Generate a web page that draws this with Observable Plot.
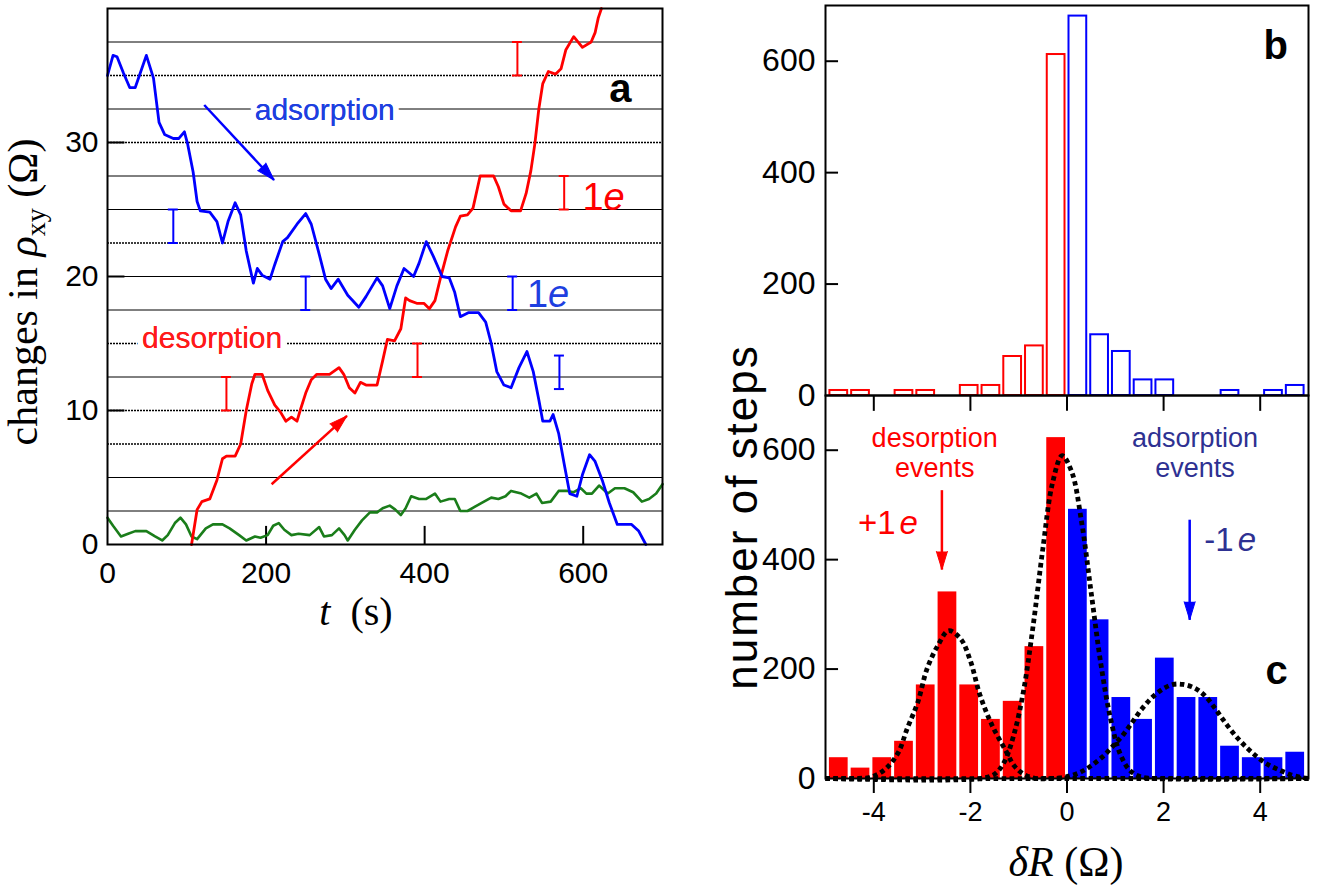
<!DOCTYPE html>
<html><head><meta charset="utf-8">
<script src="https://cdn.jsdelivr.net/npm/d3@7"></script>
<script src="https://cdn.jsdelivr.net/npm/@observablehq/plot@0.6"></script>
<style>
body{margin:0;background:#fff;}
#fig{position:relative;width:1319px;height:887px;overflow:hidden;background:#fff;}
#fig svg{position:absolute;}
</style></head><body><div id="fig"></div>
<script>
// ---------- Panel a : time traces ----------
const blueT = [0,7,12,20,28,35,42,49,58,65,72,83,90,97,101,108,113,117,129,138,145,152,161,168,175,184,189,195,205,211,221,227,239,250,257,266,275,282,291,303,317,326,340,347,356,365,374,386,393,402,411,422,431,438,445,455,468,477,484,491,500,509,519,529,537,544,549,558,562,569,576,583,592,599,608,615,624,633,643,652,661,670,679];
const blueR = [35.0,36.5,36.4,35.2,34.1,34.1,35.3,36.5,34.8,31.5,30.6,30.3,30.3,30.8,29.9,27.8,25.6,24.9,24.8,24.1,22.5,24.1,25.5,24.6,21.9,19.5,20.6,20.1,19.8,20.9,22.6,22.9,23.9,24.7,23.9,21.9,19.8,19.1,19.8,18.6,17.7,18.5,19.9,19.3,17.6,19.3,20.6,20.0,21.0,22.6,21.5,20.0,19.9,18.8,17.0,17.3,17.3,16.6,15.0,12.9,11.9,11.7,13.2,14.4,12.9,10.8,9.2,9.2,9.7,8.3,6.0,3.8,3.6,5.2,6.7,6.2,4.8,3.1,1.5,1.5,1.5,1.0,0.0];
const redT = [106,113,119,129,138,145,150,161,168,175,182,186,195,202,211,218,225,232,239,243,250,257,264,280,292,298,305,312,319,326,340,347,353,362,370,376,381,390,399,406,413,420,429,439,445,454,461,470,487,493,500,509,521,528,534,539,544,549,556,565,572,578,588,599,610,615,619,623];
const redR = [0.0,2.6,3.2,3.4,4.8,6.4,6.6,6.6,7.5,10.0,12.0,12.7,12.7,11.5,10.4,9.9,9.2,9.5,9.2,10.0,11.3,12.3,12.7,12.7,13.2,12.7,11.7,11.3,12.1,11.9,11.9,13.7,15.3,15.2,16.1,18.4,18.2,18.0,18.0,17.6,18.2,19.9,21.9,23.7,24.5,24.6,25.1,27.5,27.5,26.7,25.4,24.9,24.9,26.2,27.9,29.9,32.5,34.4,35.3,35.1,35.5,36.9,37.9,37.1,37.5,38.2,39.3,40.0];
const greenT = [0,7,17,26,35,49,60,69,76,85,92,99,106,113,124,133,145,154,166,175,186,193,202,209,216,223,232,241,255,267,273,283,292,299,303,312,321,331,340,347,356,363,370,376,383,393,402,413,420,431,438,445,454,463,472,484,493,502,509,522,532,541,548,559,569,580,588,597,604,611,620,631,640,652,663,674,683,692,700];
const greenR = [2.0,1.4,0.6,0.8,1.0,1.0,0.6,0.3,0.7,1.6,2.0,1.5,0.6,0.4,1.2,1.5,1.5,1.2,0.7,0.3,0.6,0.5,0.7,1.4,1.6,1.1,0.7,0.8,0.7,1.3,0.6,0.7,1.2,0.7,0.3,1.1,1.8,2.4,2.4,2.7,2.9,2.6,2.2,2.7,3.6,3.4,3.4,3.8,3.2,3.4,3.4,2.5,2.5,2.8,3.1,3.5,3.4,3.6,4.0,3.8,3.5,3.8,3.1,3.2,4.0,4.0,3.9,4.2,3.8,3.8,4.4,3.8,4.2,4.2,3.9,3.2,3.4,3.8,4.5];
const blueErrT = [83,250,511,570];
const blueErrLo = [22.5,17.5,17.5,11.6];
const blueErrHi = [25.0,20.0,20.0,14.1];
const redErrT = [150,391,517,576];
const redErrLo = [10.0,12.5,35.0,25.0];
const redErrHi = [12.5,15.0,37.5,27.5];
const gridSolid = [37.5,32.5,27.5,25,20,17.5,12.5,5,2.5];
const gridDotted = [35,30,22.5,15,10,7.5];
const aTicksX = [0,200,400,600];
const aTicksY = [0,10,20,30];

// ---------- Panels b, c : histograms ----------
const binW = 0.45;
const bRedLo = [-4.95,-4.5,-3.6,-3.15,-2.25,-1.8,-1.35,-0.9,-0.45];
const bRedN  = [9,9,9,9,18,18,70,89,612];
const bBlueLo = [0,0.45,0.9,1.35,1.8,3.15,4.05,4.5];
const bBlueN  = [681,109,79,28,28,9,9,18];
const cRedLo = [-4.95,-4.5,-4.05,-3.6,-3.15,-2.7,-2.25,-1.8,-1.35,-0.9,-0.45];
const cRedN  = [38,19,38,68,171,341,171,108,141,241,623];
const cBlueLo = [0,0.45,0.9,1.35,1.8,2.25,2.7,3.15,3.6,4.05,4.5];
const cBlueN  = [492,290,148,108,220,148,148,59,38,38,48];
// dotted fit curves
const fit1V = [-5,-4.4,-4.05,-3.75,-3.49,-3.31,-3.09,-2.9,-2.68,-2.45,-2.2,-2.0,-1.8,-1.55,-1.25,-1.1,-0.9,-0.65,-0.3,5];
const fit1N = [0,0,3,18,48,91,139,200,242,270,255,215,152,97,48,24,8,0,0,0];
const fit2V = [-5,-1.8,-1.5,-1.3,-1.1,-0.9,-0.7,-0.5,-0.3,-0.1,0.1,0.3,0.5,0.7,0.9,1.1,1.3,1.5,1.8,5];
const fit2N = [0,0,8,30,80,160,280,420,540,590,560,470,340,210,110,45,15,4,0,0];
const fit3V = [-5,-0.5,-0.15,0.07,0.29,0.51,0.74,0.96,1.18,1.36,1.54,1.76,1.99,2.2,2.4,2.65,2.87,3.09,3.31,3.53,3.75,3.97,4.19,4.41,4.63,4.85,5];
const fit3N = [0,0,1,5,12,24,40,60,82,104,126,148,164,172,172,165,150,125,98,74,54,37,24,15,7,2,0];
const bcTicksX = [-4,-2,0,2,4];
const bcTicksY = [0,200,400,600];

// ---------- helpers ----------
const rows = (xs, ys) => xs.map((x, i) => ({x, y: ys[i]}));
const errRows = (ts, lo, hi) => ts.map((t, i) => ({t, lo: lo[i], hi: hi[i]}));
const binRows = (lo, n) => lo.map((l, i) => ({lo: l, hi: l + binW, n: n[i]}));
const pt = (x, y) => [{x, y}];
const RED = "#ff0000", BLUE = "#0000ff", GREEN = "#1a7d1a";
const fig = document.getElementById("fig");

// layout of panel a
const A = {w: 700, h: 650, mt: 8, mr: 38, mb: 106, ml: 107};
const sxA = (A.w - A.ml - A.mr) / 700, syA = (A.h - A.mt - A.mb) / 40;
const rot = (d, sx, sy) => Math.atan2((d.x2 - d.x1) * sx, (d.y2 - d.y1) * sy) * 180 / Math.PI;
const arrowBlueA = [{x1: 122, y1: 32.8, x2: 210, y2: 27.2}];
const arrowRedA = [{x1: 207, y1: 4.5, x2: 302, y2: 9.6}];

function errMarks(data, color) {
  return [
    Plot.ruleX(data, {x: "t", y1: "lo", y2: "hi", stroke: color, strokeWidth: 2}),
    Plot.ruleY(data, {y: "lo", x1: d => d.t - 6.3, x2: d => d.t + 6.3, stroke: color, strokeWidth: 2}),
    Plot.ruleY(data, {y: "hi", x1: d => d.t - 6.3, x2: d => d.t + 6.3, stroke: color, strokeWidth: 2})
  ];
}
function arrowMarks(data, color, sx, sy) {
  return [
    Plot.link(data, {x1: "x1", y1: "y1", x2: "x2", y2: "y2", stroke: color, strokeWidth: 2.5}),
    Plot.vector(data, {x: "x2", y: "y2", rotate: d => rot(d, sx, sy), length: 18, r: 5.5, anchor: "end", shape: "spike", fill: color, stroke: color, strokeWidth: 1})
  ];
}

const plotA = Plot.plot({
  width: A.w, height: A.h, marginTop: A.mt, marginRight: A.mr, marginBottom: A.mb, marginLeft: A.ml,
  x: {domain: [0, 700]}, y: {domain: [0, 40]},
  style: {fontFamily: "Liberation Sans", background: "transparent", overflow: "visible"},
  marks: [
    Plot.ruleY(gridSolid, {stroke: "#000", strokeWidth: 1}),
    Plot.ruleY(gridDotted, {stroke: "#000", strokeWidth: 1.3, strokeDasharray: "2,1"}),
    Plot.ruleX(aTicksX.slice(1), {y1: 0, y2: 1.35, strokeWidth: 2}),
    Plot.ruleY(aTicksY.slice(1), {x1: 0, x2: 22, strokeWidth: 2}),
    Plot.text(pt(274, 32.4), {x: "x", y: "y", text: () => "adsorption", fill: "#1e3fe0", fontSize: 30, stroke: "white", strokeWidth: 12}),
    Plot.text(pt(274, 32.4), {x: "x", y: "y", text: () => "adsorption", fill: "#1e3fe0", fontSize: 30}),
    Plot.text(pt(132, 15.4), {x: "x", y: "y", text: () => "desorption", fill: "#ff1a1a", fontSize: 30, stroke: "white", strokeWidth: 12}),
    Plot.text(pt(132, 15.4), {x: "x", y: "y", text: () => "desorption", fill: "#ff1a1a", fontSize: 30}),
    Plot.line(rows(greenT, greenR), {x: "x", y: "y", stroke: GREEN, strokeWidth: 2.6}),
    Plot.line(rows(redT, redR), {x: "x", y: "y", stroke: RED, strokeWidth: 2.8}),
    Plot.line(rows(blueT, blueR), {x: "x", y: "y", stroke: BLUE, strokeWidth: 2.8}),
    ...errMarks(errRows(blueErrT, blueErrLo, blueErrHi), BLUE),
    ...errMarks(errRows(redErrT, redErrLo, redErrHi), RED),
    ...arrowMarks(arrowBlueA, BLUE, sxA, syA),
    ...arrowMarks(arrowRedA, RED, sxA, syA),
    Plot.text(pt(599, 25.9), {x: "x", y: "y", text: () => "1", textAnchor: "start", fill: RED, fontSize: 38}),
    Plot.text(pt(599, 25.9), {x: "x", y: "y", text: () => "e", dx: 21, textAnchor: "start", fontStyle: "italic", fill: RED, fontSize: 38}),
    Plot.text(pt(529, 18.6), {x: "x", y: "y", text: () => "1", textAnchor: "start", fill: "#1e3fe0", fontSize: 38}),
    Plot.text(pt(529, 18.6), {x: "x", y: "y", text: () => "e", dx: 21, textAnchor: "start", fontStyle: "italic", fill: "#1e3fe0", fontSize: 38}),
    Plot.text(pt(647, 34.0), {x: "x", y: "y", text: () => "a", fontWeight: "bold", fontSize: 40}),
    Plot.axisX({ticks: aTicksX, tickSize: 0, tickPadding: 17, fontSize: 30, label: null}),
    Plot.axisY({ticks: aTicksY, tickSize: 0, tickPadding: 9, fontSize: 30, label: null}),
    Plot.frame({strokeWidth: 2})
  ]
});
plotA.style.left = "0px"; plotA.style.top = "0px";
fig.appendChild(plotA);

// layout of panels b / c
const BC = {w: 619, ml: 125, mr: 11};
const plotB = Plot.plot({
  width: BC.w, height: 400, marginTop: 5, marginRight: BC.mr, marginBottom: 5, marginLeft: BC.ml,
  x: {domain: [-5, 5], axis: null}, y: {domain: [0, 700]},
  style: {fontFamily: "Liberation Sans", background: "transparent", overflow: "visible"},
  marks: [
    Plot.rectY(binRows(bRedLo, bRedN), {x1: "lo", x2: "hi", y: "n", fill: "none", stroke: RED, strokeWidth: 2, insetLeft: 2, insetRight: 2}),
    Plot.rectY(binRows(bBlueLo, bBlueN), {x1: "lo", x2: "hi", y: "n", fill: "none", stroke: BLUE, strokeWidth: 2, insetLeft: 2, insetRight: 2}),
    Plot.ruleY(bcTicksY.slice(1), {x1: -5, x2: -4.73, strokeWidth: 2}),
    Plot.text(pt(4.32, 627), {x: "x", y: "y", text: () => "b", fontWeight: "bold", fontSize: 40}),
    Plot.axisY({ticks: bcTicksY, tickSize: 0, tickPadding: 10, fontSize: 32, label: null}),
    Plot.frame({strokeWidth: 2})
  ]
});
plotB.style.left = "700px"; plotB.style.top = "0px";
fig.appendChild(plotB);

const CH = 492, CMB = 109;
const sxC = (BC.w - BC.ml - BC.mr) / 10, syC = (CH - CMB) / 700;
const arrowRedC = [{x1: -2.59, y1: 527, x2: -2.59, y2: 382}];
const arrowBlueC = [{x1: 2.54, y1: 473, x2: 2.54, y2: 290}];
const NAVY = "#2e3192";
const dotted = {stroke: "#000", strokeWidth: 4.8, strokeDasharray: "4.5,3.5", strokeLinecap: "butt", curve: "catmull-rom"};
const plotC = Plot.plot({
  width: BC.w, height: CH, marginTop: 0, marginRight: BC.mr, marginBottom: CMB, marginLeft: BC.ml,
  x: {domain: [-5, 5]}, y: {domain: [0, 700]},
  style: {fontFamily: "Liberation Sans", background: "transparent", overflow: "visible"},
  marks: [
    Plot.rectY(binRows(cRedLo, cRedN), {x1: "lo", x2: "hi", y: "n", fill: RED, insetLeft: 1.5, insetRight: 1.5}),
    Plot.rectY(binRows(cBlueLo, cBlueN), {x1: "lo", x2: "hi", y: "n", fill: BLUE, insetLeft: 1.5, insetRight: 1.5}),
    Plot.line(rows(fit1V, fit1N), {x: "x", y: "y", ...dotted}),
    Plot.line(rows(fit2V, fit2N), {x: "x", y: "y", ...dotted}),
    Plot.line(rows(fit3V, fit3N), {x: "x", y: "y", ...dotted}),
    Plot.ruleY(bcTicksY.slice(1), {x1: -5, x2: -4.73, strokeWidth: 2}),
    Plot.ruleX(bcTicksX, {y1: 700, y2: 671, strokeWidth: 2}),
    Plot.text(pt(-2.74, 621), {x: "x", y: "y", text: () => "desorption", fill: RED, fontSize: 27}),
    Plot.text(pt(-2.74, 567), {x: "x", y: "y", text: () => "events", fill: RED, fontSize: 27}),
    Plot.text(pt(2.65, 621), {x: "x", y: "y", text: () => "adsorption", fill: NAVY, fontSize: 27}),
    Plot.text(pt(2.65, 567), {x: "x", y: "y", text: () => "events", fill: NAVY, fontSize: 27}),
    ...arrowMarks(arrowRedC, RED, sxC, syC),
    ...arrowMarks(arrowBlueC, BLUE, sxC, syC),
    Plot.text(pt(-3.55, 467), {x: "x", y: "y", text: () => "+1", textAnchor: "end", fill: RED, fontSize: 33}),
    Plot.text(pt(-3.55, 467), {x: "x", y: "y", text: () => "e", dx: 4, textAnchor: "start", fontStyle: "italic", fill: RED, fontSize: 33}),
    Plot.text(pt(3.45, 436), {x: "x", y: "y", text: () => "-1", textAnchor: "end", fill: NAVY, fontSize: 33}),
    Plot.text(pt(3.45, 436), {x: "x", y: "y", text: () => "e", dx: 4, textAnchor: "start", fontStyle: "italic", fill: NAVY, fontSize: 33}),
    Plot.text(pt(4.34, 196), {x: "x", y: "y", text: () => "c", fontWeight: "bold", fontSize: 40}),
    Plot.axisY({ticks: bcTicksY, tickSize: 0, tickPadding: 10, fontSize: 32, label: null}),
    Plot.axisX({ticks: bcTicksX, tickSize: 15, tickPadding: 8, strokeWidth: 2, fontSize: 27, tickFormat: d => String(d), label: null}),
    Plot.frame({strokeWidth: 2})
  ]
});
plotC.style.left = "700px"; plotC.style.top = "395px";
fig.appendChild(plotC);

// ---------- axis titles ----------
const ov = d3.select(fig).append("svg").attr("width", 1319).attr("height", 887)
  .style("left", "0px").style("top", "0px").style("pointer-events", "none");
const yl = ov.append("text").attr("transform", "translate(37,292) rotate(-90)")
  .attr("text-anchor", "middle").attr("font-family", "Liberation Serif").attr("font-size", 42);
yl.append("tspan").text("changes in ");
yl.append("tspan").attr("font-style", "italic").text("ρ");
yl.append("tspan").attr("font-size", 28).attr("dy", 8).text("xy");
yl.append("tspan").attr("dy", -8).text(" (Ω)");
const xl = ov.append("text").attr("x", 356).attr("y", 625).attr("text-anchor", "middle")
  .attr("font-family", "Liberation Serif").attr("font-size", 40);
xl.append("tspan").attr("font-style", "italic").text("t");
xl.append("tspan").text("\u2002(s)");
const xl2 = ov.append("text").attr("x", 1066).attr("y", 876).attr("text-anchor", "middle")
  .attr("font-family", "Liberation Serif").attr("font-size", 42);
xl2.append("tspan").attr("font-style", "italic").text("δR");
xl2.append("tspan").text(" (Ω)");
ov.append("text").attr("transform", "translate(757,517) rotate(-90)").attr("text-anchor", "middle")
  .attr("font-family", "Liberation Sans").attr("font-size", 44).attr("letter-spacing", 2).text("number of steps");
</script></body></html>
